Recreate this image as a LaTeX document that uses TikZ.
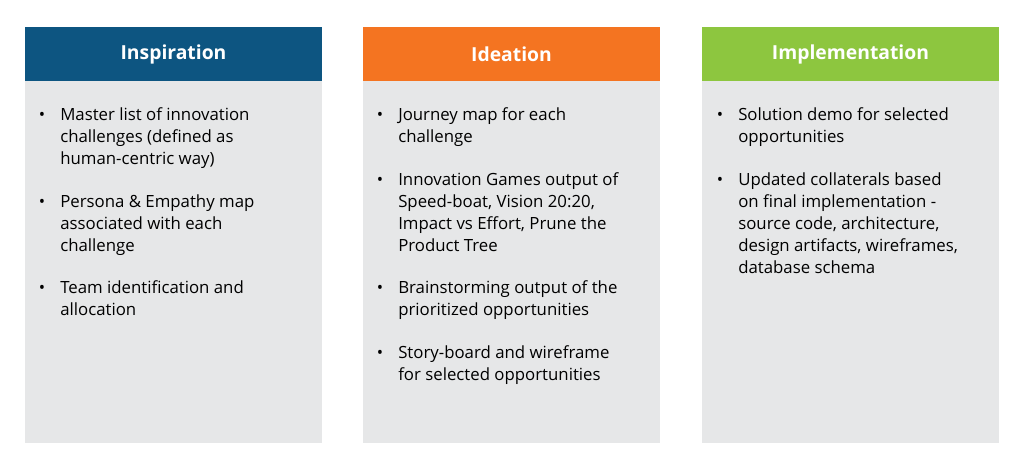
\documentclass[tikz,border=0pt]{standalone}
\usepackage{fontspec}
\setmainfont{Open Sans}
\usetikzlibrary{positioning}
\definecolor{InspBlue}{HTML}{0D5581}
\definecolor{IdeaOrange}{HTML}{F47421}
\definecolor{ImplGreen}{HTML}{8DC63F}
\definecolor{BodyGrey}{HTML}{E6E7E8}
\tikzset{
  head/.style={font=\fontsize{14.5}{17}\selectfont\bfseries, text=white},
  item/.style={anchor=north west, align=left, inner sep=0pt,
    font=\fontsize{12.6}{16.5}\selectfont},
  dot/.style={anchor=north east, inner sep=0pt, xshift=-11pt,
    font=\fontsize{12.6}{16.5}\selectfont},
}
\begin{document}
\begin{tikzpicture}[x=0.75pt, y=-0.75pt, node distance=15pt]

  %%%%%%%%%% Background %%%%%%%%%%
 \fill[white] (0,0) rectangle (1024,464);
 \useasboundingbox (0,0) rectangle (1024,464);

 %%%%%%%%%% Columns %%%%%%%%%%
 \fill[BodyGrey] (25,81) rectangle (322,443);
 \fill[BodyGrey] (363,81) rectangle (660,443);
 \fill[BodyGrey] (702,81) rectangle (999,443);

 \fill[InspBlue] (25,27) rectangle (322,81);
 \fill[IdeaOrange] (363,27) rectangle (660,81);
 \fill[ImplGreen] (702,27) rectangle (999,81);

 \node[head] (hInsp) at (173.5,54) {Inspiration};
 \node[head] (hIdea) at (511.5,54) {Ideation};
 \node[head] (hImpl) at (850.5,54) {Implementation};

 %%%%%%%%%% Inspiration %%%%%%%%%%
 \node[item] (a1) at (60,105) {\strut Master list of innovation\\\strut challenges (defined as\\\strut human-centric way)};
 \node[item, below=of a1.south west, anchor=north west] (a2) {\strut Persona \& Empathy map\\\strut associated with each\\\strut challenge};
 \node[item, below=of a2.south west, anchor=north west] (a3) {\strut Team identification and\\\strut allocation};

 %%%%%%%%%% Ideation %%%%%%%%%%
 \node[item] (b1) at (398,105) {\strut Journey map for each\\\strut challenge};
 \node[item, below=of b1.south west, anchor=north west] (b2) {\strut Innovation Games output of\\\strut Speed-boat, Vision 20:20,\\\strut Impact vs Effort, Prune the\\\strut Product Tree};
 \node[item, below=of b2.south west, anchor=north west] (b3) {\strut Brainstorming output of the\\\strut prioritized opportunities};
 \node[item, below=of b3.south west, anchor=north west] (b4) {\strut Story-board and wireframe\\\strut for selected opportunities};

 %%%%%%%%%% Implementation %%%%%%%%%%
 \node[item] (c1) at (738,105) {\strut Solution demo for selected\\\strut opportunities};
 \node[item, below=of c1.south west, anchor=north west] (c2) {\strut Updated collaterals based\\\strut on final implementation -\\\strut source code, architecture,\\\strut design artifacts, wireframes,\\\strut database schema};

 %%%%%%%%%% Bullets %%%%%%%%%%
 \foreach \i in {a1,a2,a3,b1,b2,b3,b4,c1,c2}
 {
   \node[dot] at (\i.north west) {\strut\textbullet};
 }

\end{tikzpicture}
\end{document}
